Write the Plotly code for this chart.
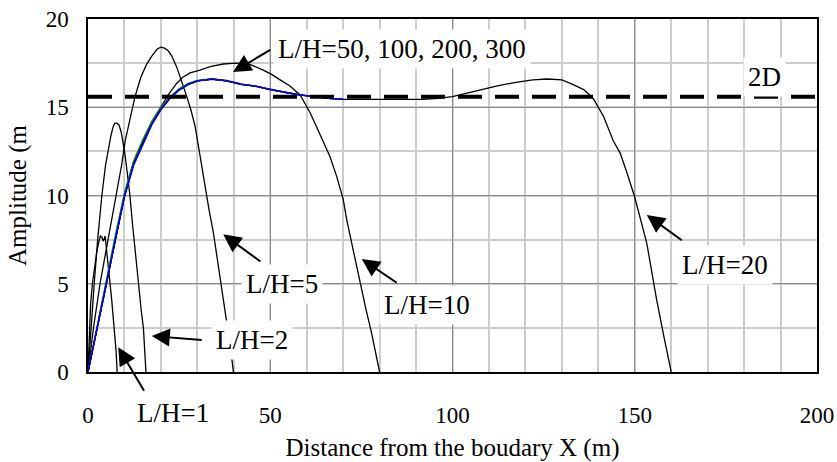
import plotly.graph_objects as go

# ---------------- data ----------------
x_lh1 = [0, 0.3, 0.7, 1.2, 1.8, 2.4, 3.0, 3.4, 3.8, 4.2, 4.7, 5.1, 5.6, 6.0, 6.5, 7.0, 7.4, 7.7, 8.0]
y_lh1 = [0, 2.0, 3.8, 5.0, 6.0, 6.8, 7.4, 7.7, 7.65, 7.4, 7.7, 7.0, 6.0, 5.1, 4.1, 3.0, 2.2, 1.2, 0]

x_lh2 = [0, 0.8, 1.7, 2.7, 3.8, 4.8, 5.6, 6.3, 6.9, 7.4, 7.9, 8.5, 9.1, 9.6, 10.1, 10.7, 11.5,
         12.2, 12.9, 13.8, 14.6, 15.2, 15.6, 15.9]
y_lh2 = [0, 2.6, 5.0, 7.6, 10.0, 11.7, 12.7, 13.4, 13.9, 14.1, 14.1, 14.0, 13.6, 13.1, 12.4, 11.4, 10.0,
         8.4, 6.9, 5.0, 3.5, 2.5, 1.3, 0]

x_lh5 = [0, 1.5, 3.3, 5.5, 7.9, 9.2, 10.2, 11.5, 12.9, 14.5, 16.0, 17.5, 19.0, 20.0, 21.0, 22.0, 23.0,
         24.3, 25.7, 27.1, 28.3, 29.4, 30.7, 32.1, 33.2, 34.4, 35.5, 36.7, 38.0, 39.0, 39.9]
y_lh5 = [0, 2.5, 5.0, 7.5, 10.0, 11.7, 13.1, 14.4, 15.6, 16.7, 17.4, 17.9, 18.3, 18.4, 18.35, 18.2, 17.9,
         17.3, 16.5, 15.6, 14.8, 13.9, 12.3, 10.5, 9.2, 7.9, 6.4, 4.8, 2.9, 1.5, 0]

x_lh10 = [0, 2.5, 5, 7.5, 10, 12.5, 15, 17.5, 20, 22, 24.3, 26, 28, 30.7, 33.5, 37.1, 40.5, 44.4, 48.1,
          50.5, 52.7, 55.4, 58.2, 60.9, 62.7, 64.5, 66.4, 68.2, 70, 71, 72.3, 74.6, 76.2, 77.8, 79, 80]
y_lh10 = [0, 2.5, 5.0, 7.5, 10.0, 11.8, 13.05, 14.15, 15.0, 15.7, 16.35, 16.7, 16.95, 17.1, 17.3, 17.45,
          17.5, 17.43, 17.1, 16.85, 16.55, 16.2, 15.7, 14.7, 13.9, 13.1, 12.2, 11.1, 9.8, 8.6, 7.3, 5.0,
          3.6, 2.2, 1.0, 0]

x_lh20 = [0, 2.5, 5, 7.5, 10, 12.5, 15, 17.5, 20, 22.5, 25, 27.5, 30, 34, 38, 42, 46, 50, 54, 58, 62,
          66, 70, 76, 82, 88, 92, 96, 100, 104, 108, 112, 117, 122, 126, 130, 133, 136, 138.6, 141.4,
          144.1, 146, 148, 150, 153.3, 156, 158, 160]
y_lh20 = [0, 2.5, 5.0, 7.5, 10.0, 11.8, 13.0, 14.1, 14.9, 15.5, 16.0, 16.3, 16.5, 16.6, 16.5, 16.3,
          16.2, 16.0, 15.85, 15.7, 15.6, 15.5, 15.45, 15.45, 15.45, 15.45, 15.45, 15.5, 15.6, 15.8,
          16.0, 16.2, 16.4, 16.55, 16.6, 16.55, 16.3, 16.0, 15.5, 14.5, 13.1, 12.4, 11.2, 9.9, 7.3,
          4.1, 2.0, 0]

x_long = [0, 2.5, 5.0, 7.5, 10.0, 12.5, 15.0, 17.5, 20.0, 22.5, 25.0, 27.5, 30.0, 34.0, 38.0, 42.0,
          46.0, 50.0, 54.0, 58.0, 62.0, 66.0, 70.0]
y_lh50 = [0, 2.5, 5.0, 7.6, 10.0, 11.8, 13.0, 14.1, 14.9, 15.55, 16.0, 16.3, 16.5, 16.6, 16.5, 16.3,
          16.2, 16.0, 15.85, 15.7, 15.6, 15.5, 15.45]
y_lh100 = [0, 2.6, 5.15, 7.75, 10.15, 11.95, 13.15, 14.2, 15.0, 15.6, 16.05, 16.35, 16.52, 16.6, 16.5,
           16.3, 16.2, 16.0, 15.85, 15.7, 15.6, 15.5, 15.45]
y_lh200 = [0, 2.45, 4.95, 7.55, 9.95, 11.75, 12.95, 14.05, 14.88, 15.52, 15.98, 16.3, 16.5, 16.6,
           16.52, 16.32, 16.2, 16.02, 15.86, 15.72, 15.6, 15.5, 15.45]
y_lh300 = [0, 2.4, 4.9, 7.5, 9.9, 11.7, 12.9, 14.0, 14.85, 15.5, 15.97, 16.28, 16.49, 16.58, 16.5,
           16.3, 16.18, 16.0, 15.84, 15.7, 15.58, 15.5, 15.45]

x_2d = [0, 200]
y_2d = [15.6, 15.6]

x_ticks = [0, 50, 100, 150, 200]
y_ticks = [0, 5, 10, 15, 20]

# ---------------- figure ----------------
fig = go.Figure()
thin = dict(color="black", width=1.3)
for xs, ys, nm in [(x_lh1, y_lh1, "L/H=1"), (x_lh2, y_lh2, "L/H=2"), (x_lh5, y_lh5, "L/H=5"),
                   (x_lh10, y_lh10, "L/H=10"), (x_lh20, y_lh20, "L/H=20")]:
    fig.add_trace(go.Scatter(x=xs, y=ys, mode="lines", line=thin, name=nm, showlegend=False))

for ys, col, nm in [(y_lh50, "black", "L/H=50"), (y_lh100, "#008000", "L/H=100"),
                    (y_lh200, "#400080", "L/H=200"), (y_lh300, "#0000ff", "L/H=300")]:
    fig.add_trace(go.Scatter(x=x_long, y=ys, mode="lines", line=dict(color=col, width=1.3),
                             name=nm, showlegend=False))

fig.add_trace(go.Scatter(x=x_2d, y=y_2d, mode="lines", name="2D", showlegend=False,
                         line=dict(color="black", width=4, dash="24px,13px")))

FONT = "Liberation Serif, Times New Roman, serif"
ann_font = dict(family=FONT, size=27, color="black")

labels = [
    # text, x, y (data), xanchor
    ("L/H=50, 100, 200, 300", 50.8, 18.3, "left"),
    ("2D", 185.5, 16.7, "center"),
    ("L/H=20", 174.8, 6.06, "center"),
    ("L/H=10", 92.9, 3.8, "center"),
    ("L/H=5", 53.1, 5.0, "center"),
    ("L/H=2", 44.9, 1.8, "center"),
]
for t, x, y, xa in labels:
    fig.add_annotation(x=x, y=y, text=t, showarrow=False, xanchor=xa, yanchor="middle",
                       font=ann_font, bgcolor="white", borderpad=4)

# label below the axis (outside the data range) -> paper coordinates
fig.add_annotation(x=0.117, y=-0.117, xref="paper", yref="paper", text="L/H=1", showarrow=False,
                   xanchor="center", yanchor="middle", font=ann_font)

arrows = [
    # tail x,y -> head x,y
    (50.4, 18.3, 39.8, 17.0),
    (163.3, 7.4, 153.3, 8.9),
    (85.1, 5.0, 75.1, 6.4),
    (47.7, 6.2, 37.1, 7.8),
    (31.6, 1.8, 17.5, 2.04),
]
for ax, ay, hx, hy in arrows:
    fig.add_annotation(x=hx, y=hy, ax=ax, ay=ay, axref="x", ayref="y", text="",
                       showarrow=True, arrowhead=2, arrowsize=1.8, arrowwidth=2, arrowcolor="black")
# L/H=1 arrow: tail lies below the axis, so use pixel offsets
fig.add_annotation(x=8.3, y=1.4, ax=26.7, ay=45, text="", showarrow=True,
                   arrowhead=2, arrowsize=1.8, arrowwidth=2, arrowcolor="black")

fig.update_xaxes(range=[0, 200], tickvals=x_ticks, ticktext=[str(v) for v in x_ticks],
                 showgrid=True, gridcolor="#8c8c8c", gridwidth=1.3,
                 minor=dict(dtick=10, tick0=0, showgrid=True, gridcolor="#cccccc", gridwidth=1.5),
                 showline=True, linecolor="black", linewidth=1.5, mirror=True,
                 zeroline=False, ticks="", ticklabelstandoff=22, automargin=False,
                 tickfont=dict(family=FONT, size=23, color="black"),
                 title=dict(text="Distance from the boudary X (m)", standoff=16,
                            font=dict(family=FONT, size=25, color="black")))
fig.update_yaxes(range=[0, 20], tickvals=y_ticks, ticktext=[str(v) for v in y_ticks],
                 showgrid=True, gridcolor="#8c8c8c", gridwidth=1.3,
                 minor=dict(dtick=2.5, tick0=0, showgrid=True, gridcolor="#cccccc", gridwidth=1.5),
                 showline=True, linecolor="black", linewidth=1.5, mirror=True,
                 zeroline=False, ticks="", ticklabelstandoff=13, automargin=False,
                 tickfont=dict(family=FONT, size=23, color="black"),
                 title=dict(text="Amplitude (m", standoff=12,
                            font=dict(family=FONT, size=25, color="black")))

fig.update_layout(width=837, height=462, margin=dict(l=88, r=20, t=19, b=90),
                  plot_bgcolor="white", paper_bgcolor="white", showlegend=False)

fig.write_html("out.html")
